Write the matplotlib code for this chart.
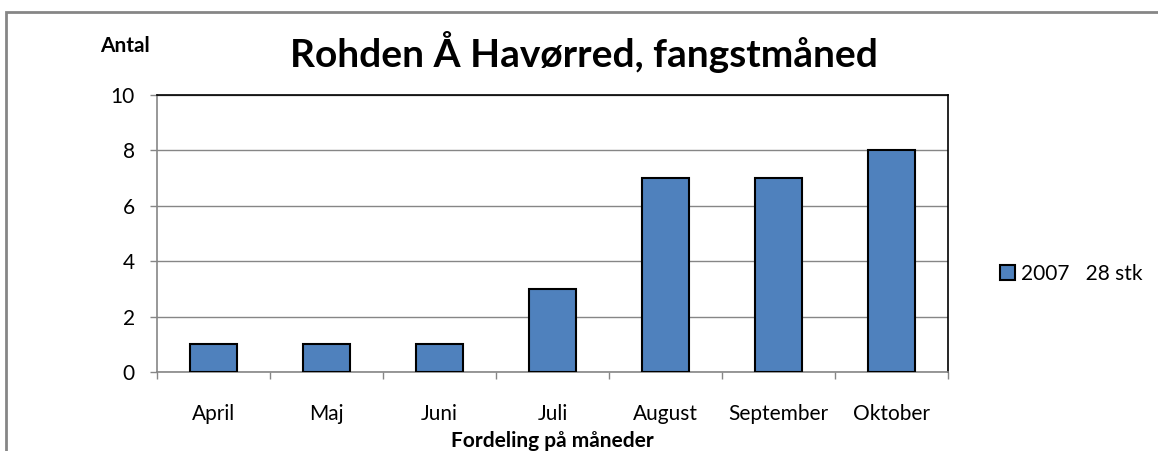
import matplotlib.pyplot as plt
from matplotlib.patches import Rectangle

months = ['April', 'Maj', 'Juni', 'Juli', 'August', 'September', 'Oktober']
counts = [1, 1, 1, 3, 7, 7, 8]
series_label = '2007   28 stk'

plt.rcParams['font.family'] = ['Lato', 'DejaVu Sans']

W, H = 1158, 451
fig = plt.figure(figsize=(W / 100, H / 100), dpi=100)

# outer chart frame (cut off on the right and bottom like the screenshot)
fig.patches.append(Rectangle((6 / W, -0.1), 1.2, 1 - 12 / H + 0.1,
                             transform=fig.transFigure, fill=False,
                             edgecolor='#868686', linewidth=2))

ax = fig.add_axes([157 / W, 1 - 372 / H, (948 - 157) / W, (372 - 95) / H])

x = range(len(months))
ax.bar(x, counts, width=0.41, color='#4F81BD', edgecolor='black',
       linewidth=1.5, label=series_label, zorder=3)

ax.set_xlim(-0.5, len(months) - 0.5)
ax.set_ylim(0, 10)
ax.set_yticks(range(0, 11, 2))
ax.yaxis.grid(True, color='#868686', linewidth=1, zorder=0)

ax.set_xticks(x)
ax.set_xticklabels(months, fontsize=15)
ax.tick_params(axis='x', length=0, pad=23)
ax.set_xticks([i - 0.5 for i in range(len(months) + 1)], minor=True)
ax.tick_params(axis='x', which='minor', length=5, color='#868686', width=1)
ax.tick_params(axis='y', labelsize=15, length=5, color='#868686', width=1, pad=11)

for side in ['top', 'right']:
    ax.spines[side].set_color('black')
    ax.spines[side].set_linewidth(1.2)
for side in ['left', 'bottom']:
    ax.spines[side].set_color('#868686')
    ax.spines[side].set_linewidth(1.2)

fig.text(584 / W, 1 - 67 / H, 'Rohden Å Havørred, fangstmåned', ha='center',
         va='baseline', fontsize=28, fontweight='bold')
fig.text(125 / W, 1 - 52 / H, 'Antal', ha='center', va='baseline',
         fontsize=15, fontweight='bold')
fig.text(552 / W, 1 - 447 / H, 'Fordeling på måneder', ha='center',
         va='baseline', fontsize=15, fontweight='bold')

handles, labels = ax.get_legend_handles_labels()
fig.legend(handles, labels, loc='center left',
           bbox_to_anchor=(1000 / W, 1 - 274 / H), frameon=False,
           fontsize=15, handlelength=0.7, handleheight=0.7, handletextpad=0.3,
           borderpad=0, borderaxespad=0)

fig.savefig('out.png', dpi=100)
